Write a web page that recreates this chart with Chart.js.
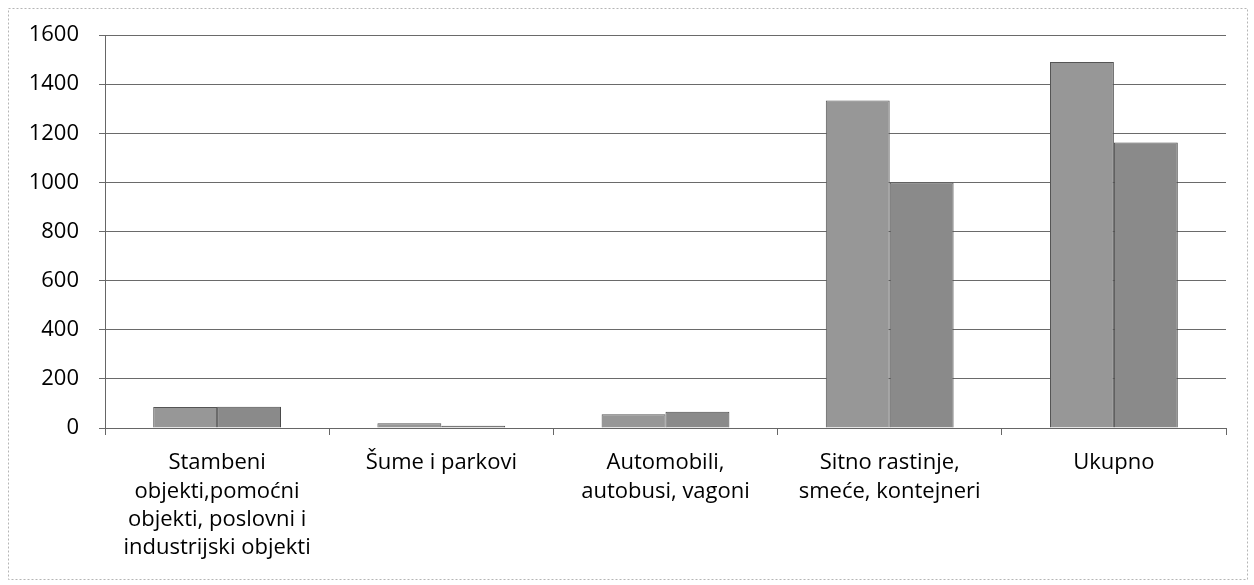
<!DOCTYPE html>
<html>
<head>
<meta charset="utf-8">
<script src="https://cdn.jsdelivr.net/npm/chart.js@4"></script>
<style>
  body { margin: 0; background: #fff; }
  #wrap { width: 1254px; height: 585px; }
</style>
</head>
<body>
<div id="wrap"><canvas id="chart" width="1254" height="585"></canvas></div>
<script>
// podaci sa grafikona
const categories = [
    ['Stambeni', 'objekti,pomoćni', 'objekti, poslovni i', 'industrijski objekti'],
    'Šume i parkovi',
    ['Automobili,', 'autobusi, vagoni'],
    ['Sitno rastinje,', 'smeće, kontejneri'],
    'Ukupno'
];
const series1 = [86, 19, 56, 1333, 1490];
const series2 = [87, 9, 66, 1000, 1162];
const yTicks = [0, 200, 400, 600, 800, 1000, 1200, 1400, 1600];

// okvir oko cijelog grafikona
const framePlugin = {
    id: 'frame',
    afterDraw(chart) {
        const c = chart.ctx;
        c.save();
        c.strokeStyle = '#b5b5b5';
        c.lineWidth = 1;
        c.setLineDash([2, 2]);
        c.strokeRect(8.5, 8.5, 1239, 571);
        c.restore();
    }
};

const ctx = document.getElementById('chart').getContext('2d');
new Chart(ctx, {
    type: 'bar',
    data: {
        labels: categories,
        datasets: [{
            label: 'Serija 1',
            data: series1,
            backgroundColor: '#979797',
            borderColor: '#555',
            borderWidth: 1
        }, {
            label: 'Serija 2',
            data: series2,
            backgroundColor: '#8a8a8a',
            borderColor: '#4a4a4a',
            borderWidth: 1
        }]
    },
    options: {
        responsive: false,
        animation: false,
        datasets: {
            bar: { categoryPercentage: 0.57, barPercentage: 1 }
        },
        layout: {
            padding: { left: 0, top: 35, right: 28, bottom: 0 }
        },
        plugins: {
            legend: { display: false },
            tooltip: { enabled: false }
        },
        scales: {
            x: {
                afterFit: s => { s.height = 157; },
                grid: {
                    offset: true,
                    drawOnChartArea: false,
                    color: '#666',
                    tickLength: 7
                },
                border: { color: '#666' },
                ticks: {
                    color: '#000',
                    padding: 14,
                    maxRotation: 0,
                    autoSkip: false,
                    font: { family: 'Open Sans', size: 22, lineHeight: 1.28 }
                }
            },
            y: {
                min: 0,
                max: 1600,
                afterFit: s => { s.width = 105; },
                afterBuildTicks: s => { s.ticks = yTicks.map(v => ({ value: v })); },
                grid: {
                    color: '#6a6a6a',
                    tickLength: 6
                },
                border: { color: '#666' },
                ticks: {
                    color: '#000',
                    padding: 20,
                    callback: v => String(v),
                    font: { family: 'Open Sans', size: 22 }
                }
            }
        }
    },
    plugins: [framePlugin]
});
</script>
</body>
</html>
